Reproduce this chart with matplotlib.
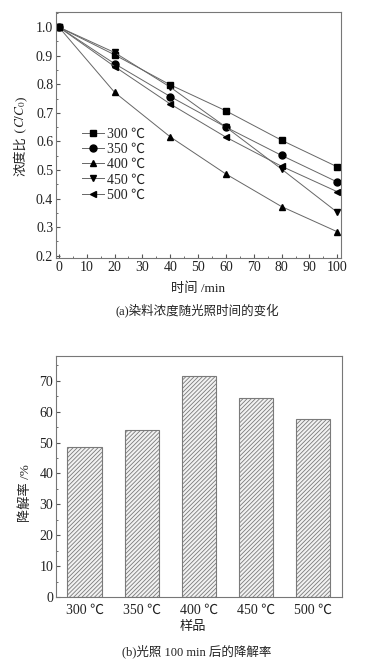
import matplotlib
matplotlib.use("Agg")
import matplotlib.pyplot as plt
from matplotlib.ticker import MultipleLocator, FormatStrFormatter

plt.rcParams['font.family'] = ['Liberation Serif', 'Noto Sans CJK SC', 'DejaVu Sans']
plt.rcParams['mathtext.fontset'] = 'stix'
plt.rcParams['hatch.linewidth'] = 0.6
plt.rcParams['text.color'] = '#222222'
plt.rcParams['xtick.color'] = '#555555'
plt.rcParams['ytick.color'] = '#555555'
plt.rcParams['xtick.labelcolor'] = '#222222'
plt.rcParams['ytick.labelcolor'] = '#222222'

# (a) 浓度比随时间
time_min = [0, 20, 40, 60, 80, 100]
temp_labels = ["300 ℃", "350 ℃", "400 ℃", "450 ℃", "500 ℃"]
c300 = [1.0, 0.903, 0.798, 0.707, 0.604, 0.511]
c350 = [1.0, 0.872, 0.757, 0.650, 0.551, 0.458]
c400 = [1.0, 0.772, 0.616, 0.486, 0.372, 0.284]
c450 = [1.0, 0.911, 0.790, 0.650, 0.503, 0.352]
c500 = [1.0, 0.862, 0.731, 0.615, 0.513, 0.424]
markers = ['s', 'o', '^', 'v', '<']

# (b) 降解率
samples = ["300 ℃", "350 ℃", "400 ℃", "450 ℃", "500 ℃"]
degradation = [48.5, 54.0, 71.6, 64.4, 57.6]

fig = plt.figure(figsize=(3.71, 6.61), dpi=100)
renderer = fig.canvas.get_renderer()

# --- 图 (a) ---
ax1 = fig.add_axes([0.151, 0.610, 0.768, 0.372])
for vals, m, lab in zip([c300, c350, c400, c450, c500], markers, temp_labels):
    ax1.plot(time_min, vals, color='#666666', lw=0.7, marker=m, ms=5,
             mfc='black', mec='black', label=lab)
ax1.set_xlim(-1, 101.3)
ax1.set_ylim(0.193, 1.053)
ax1.xaxis.set_major_locator(MultipleLocator(10))
ax1.xaxis.set_minor_locator(MultipleLocator(5))
ax1.yaxis.set_major_locator(MultipleLocator(0.1))
ax1.yaxis.set_minor_locator(MultipleLocator(0.05))
ax1.yaxis.set_major_formatter(FormatStrFormatter('%.1f'))
ax1.tick_params(which='both', direction='in', labelsize=10, pad=2)
ax1.tick_params(which='major', length=3)
ax1.tick_params(which='minor', length=1.5)
for s in ax1.spines.values():
    s.set_color('#777777')
    s.set_linewidth(0.8)
ax1.legend(loc='upper left', bbox_to_anchor=(0.07, 0.55), frameon=False,
           fontsize=10, handlelength=1.6, handletextpad=0.2,
           labelspacing=0.15, borderaxespad=0)

# y 轴标题分段拼接（中文 + 斜体公式），按基线对齐
y = 1 - 176 / 661
for piece in ['浓度比', ' (', '$C/C_0$', ')']:
    t = fig.text(0.066, y, piece, rotation=90, rotation_mode='anchor',
                 ha='left', va='baseline', fontsize=9.5)
    y += t.get_window_extent(renderer).height / fig.bbox.height

fig.text(0.534, 0.563, '时间 /min', ha='center', va='center', fontsize=9.5)
fig.text(0.531, 0.531, '(a)染料浓度随光照时间的变化', ha='center', va='center', fontsize=9)

# --- 图 (b) ---
ax2 = fig.add_axes([0.151, 0.0968, 0.770, 0.3646])
x = range(len(samples))
ax2.bar(x, degradation, width=0.6, color='#f2f2f2', edgecolor='#7a7a7a',
        hatch='////////', linewidth=0.8)
ax2.set_xlim(-0.5, 4.5)
ax2.set_ylim(0, 78)
ax2.set_xticks(list(x))
ax2.set_xticklabels(samples)
ax2.yaxis.set_major_locator(MultipleLocator(10))
ax2.yaxis.set_minor_locator(MultipleLocator(5))
ax2.tick_params(axis='y', which='both', direction='in', labelsize=10, pad=2)
ax2.tick_params(axis='y', which='major', length=3)
ax2.tick_params(axis='y', which='minor', length=1.5)
ax2.tick_params(axis='x', length=0, labelsize=10, pad=5)
for s in ax2.spines.values():
    s.set_color('#777777')
    s.set_linewidth(0.8)
fig.text(0.068, 0.254, '降解率 /%', rotation=90, ha='center', va='center', fontsize=9.5)
fig.text(0.520, 0.052, '样品', ha='center', va='center', fontsize=9.5)
fig.text(0.531, 0.014, '(b)光照 100 min 后的降解率', ha='center', va='center', fontsize=9)

fig.savefig('out.png', dpi=100)
